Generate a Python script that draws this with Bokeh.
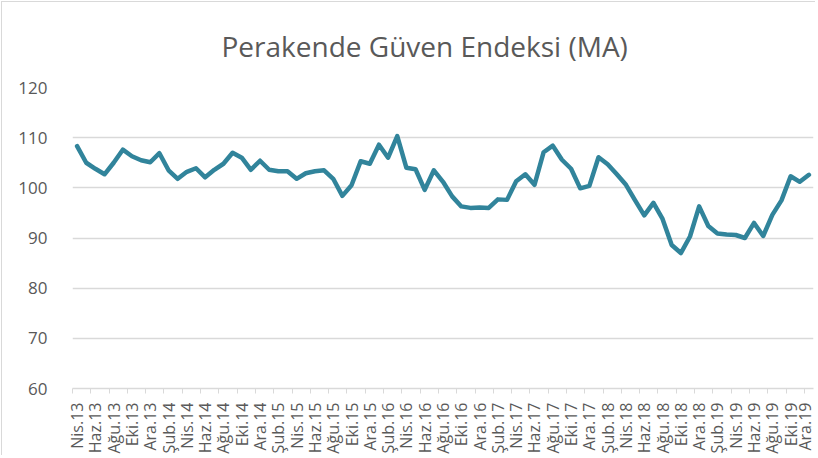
import math
from bokeh.plotting import figure
from bokeh.models import ColumnDataSource, FixedTicker, Range1d
from bokeh.embed import file_html
from bokeh.resources import INLINE

title_text = "Perakende Güven Endeksi (MA)"

months = [
    "Nis.13", "May.13", "Haz.13", "Tem.13", "Ağu.13", "Eyl.13", "Eki.13", "Kas.13", "Ara.13",
    "Oca.14", "Şub.14", "Mar.14", "Nis.14", "May.14", "Haz.14", "Tem.14", "Ağu.14", "Eyl.14", "Eki.14", "Kas.14", "Ara.14",
    "Oca.15", "Şub.15", "Mar.15", "Nis.15", "May.15", "Haz.15", "Tem.15", "Ağu.15", "Eyl.15", "Eki.15", "Kas.15", "Ara.15",
    "Oca.16", "Şub.16", "Mar.16", "Nis.16", "May.16", "Haz.16", "Tem.16", "Ağu.16", "Eyl.16", "Eki.16", "Kas.16", "Ara.16",
    "Oca.17", "Şub.17", "Mar.17", "Nis.17", "May.17", "Haz.17", "Tem.17", "Ağu.17", "Eyl.17", "Eki.17", "Kas.17", "Ara.17",
    "Oca.18", "Şub.18", "Mar.18", "Nis.18", "May.18", "Haz.18", "Tem.18", "Ağu.18", "Eyl.18", "Eki.18", "Kas.18", "Ara.18",
    "Oca.19", "Şub.19", "Mar.19", "Nis.19", "May.19", "Haz.19", "Tem.19", "Ağu.19", "Eyl.19", "Eki.19", "Kas.19", "Ara.19",
]

values = [
    108.3, 105.0, 103.8, 102.7, 105.0, 107.6, 106.3, 105.5, 105.1,
    106.9, 103.5, 101.8, 103.2, 103.9, 102.1, 103.6, 104.8, 107.0, 106.0, 103.6, 105.4,
    103.6, 103.3, 103.3, 101.8, 102.9, 103.3, 103.5, 101.8, 98.4, 100.5, 105.3, 104.8,
    108.6, 106.0, 110.3, 104.0, 103.7, 99.6, 103.5, 101.2, 98.3, 96.3, 96.0, 96.1,
    96.0, 97.7, 97.6, 101.3, 102.7, 100.6, 107.1, 108.4, 105.6, 103.8, 99.9, 100.4,
    106.1, 104.7, 102.7, 100.6, 97.5, 94.5, 97.0, 93.8, 88.6, 87.0, 90.3, 96.3,
    92.4, 90.9, 90.7, 90.6, 90.0, 93.0, 90.4, 94.6, 97.5, 102.3, 101.2, 102.6,
]

y_ticks = [60, 70, 80, 90, 100, 110, 120]

FONT = "Open Sans"
TXT = "#595959"
GRID = "#D9D9D9"

n = len(values)
idx = list(range(n))
label_idx = idx[::2]

source = ColumnDataSource(dict(x=idx, y=values))

p = figure(
    width=814, height=454,
    output_backend="svg", toolbar_location=None,
    x_range=Range1d(-0.5, n - 0.5), y_range=Range1d(y_ticks[0], y_ticks[-1]),
    min_border_left=70, min_border_right=3, min_border_top=82, min_border_bottom=67,
    background_fill_color="white", border_fill_color="white",
)
p.styles = {"border-left": "1px solid #D9D9D9", "border-top": "1px solid #D9D9D9",
            "margin-left": "1px", "margin-top": "1px"}
p.outline_line_color = None

p.line(x="x", y="y", source=source, line_color="#31849B", line_width=4.5,
       line_join="round", line_cap="round")

p.title.text = title_text
p.title.align = "left"
p.title.offset = 149
p.title.text_font = FONT
p.title.text_font_size = "28px"
p.title.text_font_style = "normal"
p.title.text_color = TXT
p.title.standoff = 45

# y axis
p.yaxis.ticker = FixedTicker(ticks=y_ticks)
p.yaxis.axis_line_color = None
p.yaxis.major_tick_line_color = None
p.yaxis.minor_tick_line_color = None
p.yaxis.major_label_text_font = FONT
p.yaxis.major_label_text_font_size = "17px"
p.yaxis.major_label_text_color = TXT
p.yaxis.major_label_standoff = 19

p.ygrid.grid_line_color = GRID
p.ygrid.grid_line_width = 1.3
p.xgrid.grid_line_color = None

# x axis
p.xaxis.ticker = FixedTicker(ticks=label_idx, minor_ticks=[i - 0.5 for i in range(0, n + 1, 2)])
p.xaxis.major_label_overrides = {i: months[i] for i in label_idx}
p.xaxis.major_label_orientation = math.pi / 2
p.xaxis.axis_line_color = GRID
p.xaxis.axis_line_width = 1.3
p.xaxis.major_tick_line_color = None
p.xaxis.minor_tick_line_color = GRID
p.xaxis.minor_tick_in = 0
p.xaxis.minor_tick_out = 5
p.xaxis.major_label_text_font = FONT
p.xaxis.major_label_text_font_size = "16px"
p.xaxis.major_label_text_color = TXT
p.xaxis.major_label_standoff = 8

open("out.html", "w").write(file_html(p, INLINE))
